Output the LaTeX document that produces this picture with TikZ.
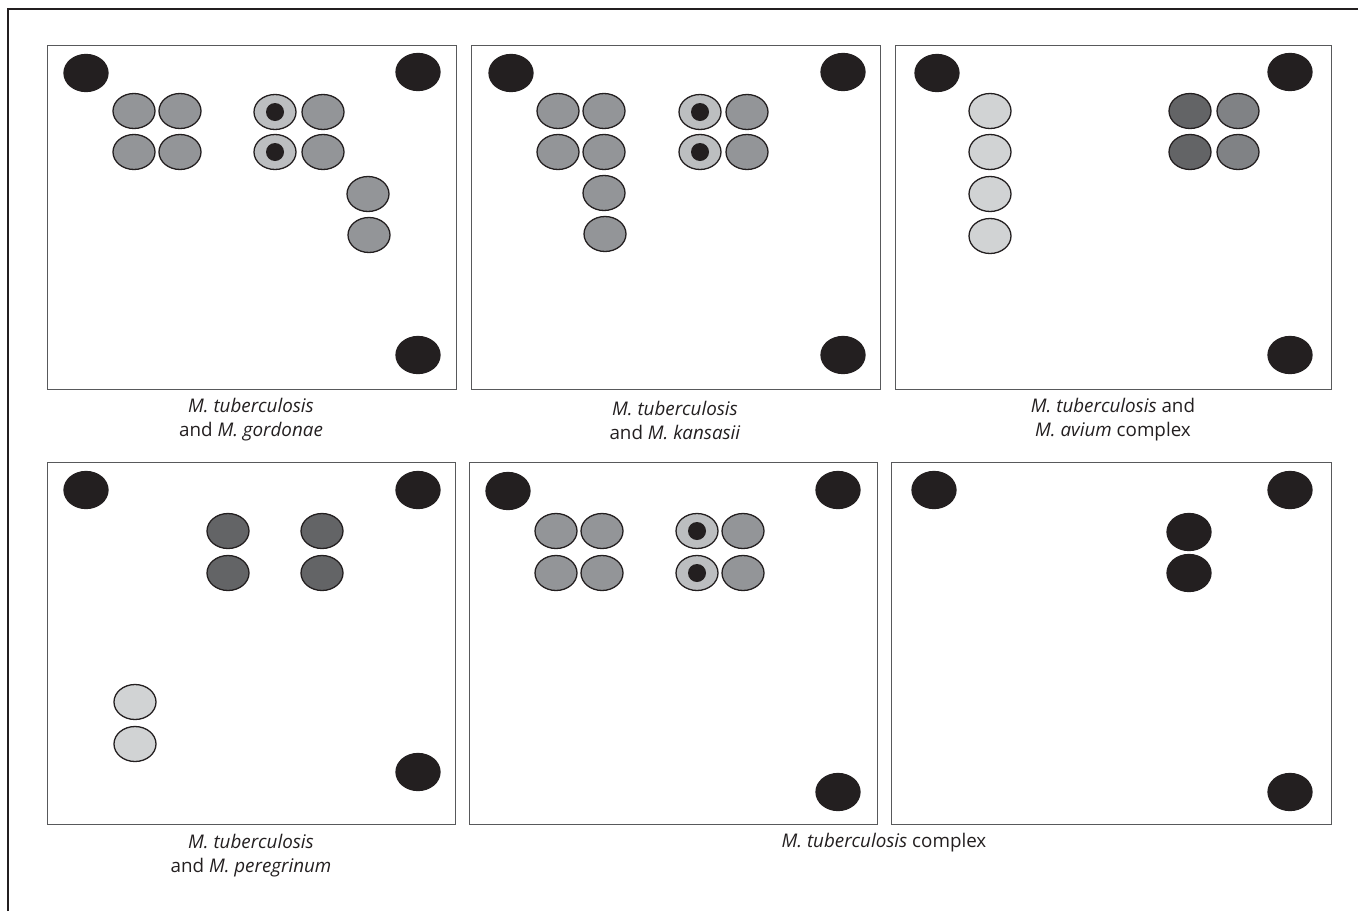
\documentclass[tikz,border=0pt]{standalone}
\usepackage{fontspec}
\setmainfont{Open Sans}
\usetikzlibrary{shapes.geometric}
\definecolor{ink}{HTML}{231F20}
\definecolor{frameg}{HTML}{58595B}
\definecolor{midg}{HTML}{939598}
\definecolor{ringg}{HTML}{BCBEC0}
\definecolor{lightg}{HTML}{D1D3D4}
\definecolor{darkg}{HTML}{636466}
\definecolor{medg}{HTML}{808285}
\tikzset{
  dotbase/.style={ellipse, inner sep=0pt, minimum width=42pt, minimum height=35pt, draw=ink, line width=1.3pt},
  blk/.style={dotbase, fill=ink, minimum width=44pt, minimum height=37pt},
  gry/.style={dotbase, fill=midg},
  lgt/.style={dotbase, fill=lightg},
  dgr/.style={dotbase, fill=darkg},
  mgr/.style={dotbase, fill=medg},
  ring/.style={dotbase, fill=ringg},
  core/.style={circle, inner sep=0pt, minimum size=18pt, fill=ink},
  panelbox/.style={draw=frameg, line width=1pt},
  captext/.style={align=center, font=\fontsize{18.8}{24}\selectfont, text=ink, inner sep=0pt}
}
\begin{document}
\begin{tikzpicture}[x=1pt,y=-1pt]
\useasboundingbox (0,0) rectangle (1359,911);
% outer frame
\draw[ink, line width=1.3pt] (8,911) -- (8,9) -- (1358,9);
% panels
\draw[panelbox] (47,45) rectangle (456,389);
\draw[panelbox] (471,45) rectangle (880,389);
\draw[panelbox] (895,45) rectangle (1331,389);
\draw[panelbox] (47,462) rectangle (455,824);
\draw[panelbox] (469,462) rectangle (877,824);
\draw[panelbox] (891,462) rectangle (1331,824);

% ---- Panel 1
\node[blk] (p1c1) at (86,73) {};
\node[blk] (p1c2) at (418,72) {};
\node[blk] (p1c3) at (418,355) {};
\node[gry] (p1g1) at (134,111) {};
\node[gry] (p1g2) at (180,111) {};
\node[gry] (p1g3) at (134,152) {};
\node[gry] (p1g4) at (180,152) {};
\node[ring] (p1r1) at (275,112) {}; \node[core] (p1k1) at (p1r1) {};
\node[ring] (p1r2) at (275,152) {}; \node[core] (p1k2) at (p1r2) {};
\node[gry] (p1g5) at (323,112) {};
\node[gry] (p1g6) at (323,152) {};
\node[gry] (p1g7) at (368,194) {};
\node[gry] (p1g8) at (369,235) {};

% ---- Panel 2
\node[blk] (p2c1) at (511,73) {};
\node[blk] (p2c2) at (843,72) {};
\node[blk] (p2c3) at (843,355) {};
\node[gry] (p2g1) at (558,111) {};
\node[gry] (p2g2) at (604,111) {};
\node[gry] (p2g3) at (558,152) {};
\node[gry] (p2g4) at (604,152) {};
\node[gry] (p2g5) at (604,193) {};
\node[gry] (p2g6) at (605,234) {};
\node[ring] (p2r1) at (700,112) {}; \node[core] (p2k1) at (p2r1) {};
\node[ring] (p2r2) at (700,152) {}; \node[core] (p2k2) at (p2r2) {};
\node[gry] (p2g7) at (747,112) {};
\node[gry] (p2g8) at (747,152) {};

% ---- Panel 3
\node[blk] (p3c1) at (937,73) {};
\node[blk] (p3c2) at (1290,72) {};
\node[blk] (p3c3) at (1290,355) {};
\node[lgt] (p3l1) at (990,111) {};
\node[lgt] (p3l2) at (990,152) {};
\node[lgt] (p3l3) at (990,194) {};
\node[lgt] (p3l4) at (990,236) {};
\node[dgr] (p3d1) at (1190,111) {};
\node[dgr] (p3d2) at (1190,152) {};
\node[mgr] (p3m1) at (1238,111) {};
\node[mgr] (p3m2) at (1238,152) {};

% ---- Panel 4
\node[blk] (p4c1) at (86,490) {};
\node[blk] (p4c2) at (418,490) {};
\node[blk] (p4c3) at (418,772) {};
\node[dgr] (p4d1) at (228,531) {};
\node[dgr] (p4d2) at (228,573) {};
\node[dgr] (p4d3) at (322,531) {};
\node[dgr] (p4d4) at (322,573) {};
\node[lgt] (p4l1) at (135,702) {};
\node[lgt] (p4l2) at (135,744) {};

% ---- Panel 5
\node[blk] (p5c1) at (508,491) {};
\node[blk] (p5c2) at (838,490) {};
\node[blk] (p5c3) at (838,792) {};
\node[gry] (p5g1) at (556,531) {};
\node[gry] (p5g2) at (602,531) {};
\node[gry] (p5g3) at (556,573) {};
\node[gry] (p5g4) at (602,573) {};
\node[ring] (p5r1) at (697,531) {}; \node[core] (p5k1) at (p5r1) {};
\node[ring] (p5r2) at (697,573) {}; \node[core] (p5k2) at (p5r2) {};
\node[gry] (p5g5) at (743,531) {};
\node[gry] (p5g6) at (743,573) {};

% ---- Panel 6
\node[blk] (p6c1) at (934,490) {};
\node[blk] (p6c2) at (1290,490) {};
\node[blk] (p6c3) at (1290,792) {};
\node[blk] (p6b1) at (1189,532) {};
\node[blk] (p6b2) at (1189,573) {};

% captions
\node[captext] (t1) at (251,420) {\textit{M. tuberculosis}\\and \textit{M. gordonae}};
\node[captext] (t2) at (675,420) {\textit{M. tuberculosis}\\and \textit{M. kansasii}};
\node[captext] (t3) at (1113,420) {\textit{M. tuberculosis} and\\\textit{M. avium} complex};
\node[captext] (t4) at (251,856) {\textit{M. tuberculosis}\\and \textit{M. peregrinum}};
\node[captext] (t5) at (884,843) {\textit{M. tuberculosis} complex};
\end{tikzpicture}
\end{document}
